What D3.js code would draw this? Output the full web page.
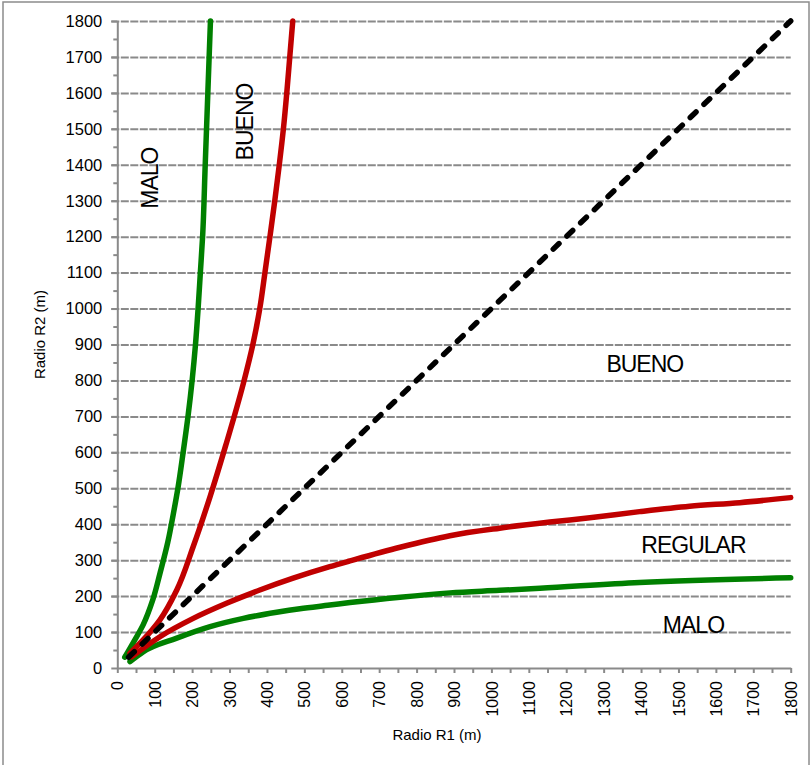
<!DOCTYPE html>
<html>
<head>
<meta charset="utf-8">
<script src="https://cdn.jsdelivr.net/npm/d3@7"></script>
<style>
  body { margin: 0; background: #fff; }
  text { font-family: "Liberation Sans", Arial, sans-serif; fill: #000; }
</style>
</head>
<body>
<div id="chart-area"></div>
<script>
// Valores de los ejes (ticks)
const ticksR1 = [0, 100, 200, 300, 400, 500, 600, 700, 800, 900, 1000, 1100, 1200, 1300, 1400, 1500, 1600, 1700, 1800];
const ticksR2 = [0, 100, 200, 300, 400, 500, 600, 700, 800, 900, 1000, 1100, 1200, 1300, 1400, 1500, 1600, 1700, 1800];
const ticksMenores = [50, 150, 250, 350, 450, 550, 650, 750, 850, 950, 1050, 1150, 1250, 1350, 1450, 1550, 1650, 1750];

// Curvas: [R1, R2]
const verdeSuperior = [[20, 30], [45, 75], [69, 120], [95, 190], [114, 263], [135, 350], [150, 430], [162, 500],
  [176, 600], [189, 700], [200, 800], [209, 900], [216, 1000], [222, 1100], [228, 1200], [235, 1400], [242, 1600], [249, 1800]];
const rojoSuperior = [[34, 41], [69, 78], [114, 134], [159, 217], [203, 338], [248, 477], [290, 620], [337, 792],
  [363, 903], [381, 1001], [395, 1103], [408, 1200], [421, 1300], [433, 1400], [444, 1500], [453, 1600], [461, 1700], [469, 1800]];
const rojoInferior = [[38, 31], [114, 87], [203, 138], [292, 180], [381, 217], [470, 250], [568, 282], [622, 298],
  [756, 336], [889, 368], [1022, 389], [1156, 406], [1263, 418], [1396, 435], [1530, 450], [1664, 460], [1800, 474]];
const verdeInferior = [[34, 18], [69, 45], [159, 83], [248, 115], [337, 138], [426, 155], [488, 165], [568, 175],
  [622, 182], [756, 197], [889, 209], [1022, 216], [1130, 222], [1396, 238], [1800, 251]];
const diagonal = [[30, 30], [1800, 1800]];

// Textos de las zonas
const zonas = [
  { texto: "MALO", r1: 109, r2: 1363, rot: true },
  { texto: "BUENO", r1: 363, r2: 1519, rot: true },
  { texto: "BUENO", r1: 1410, r2: 824, rot: false },
  { texto: "REGULAR", r1: 1540, r2: 320, rot: false },
  { texto: "MALO", r1: 1540, r2: 97, rot: false }
];

var margin = { top: 21, right: 20, bottom: 97, left: 117.3 },
    width = 811 - margin.left - margin.right - 0.3,
    height = 765 - margin.top - margin.bottom;

var svg0 = d3.select("#chart-area").append("svg")
    .attr("width", 811)
    .attr("height", 765);

// Borde exterior
svg0.append("rect")
    .attr("x", 3).attr("y", 2)
    .attr("width", 806).attr("height", 780)
    .attr("fill", "none")
    .attr("stroke", "#8c8c8c")
    .attr("stroke-width", 1.5);

var svg = svg0.append("g")
    .attr("transform", "translate(" + margin.left + "," + margin.top + ")");

var x = d3.scaleLinear().domain([0, 1800]).range([0, width]);
var y = d3.scaleLinear().domain([0, 1800]).range([height, 0]);
var formato = d3.format("d");

// Lineas de grilla horizontales
svg.append("g")
    .attr("class", "grid")
    .call(d3.axisLeft(y).tickValues(ticksR2.slice(1)).tickSize(-width - 6).tickFormat(""))
    .attr("transform", "translate(-6,0)")
    .call(g => g.select(".domain").remove())
    .selectAll("line")
    .attr("stroke", "#8a8a8a")
    .attr("stroke-width", 2)
    .attr("stroke-dasharray", "8,1.5");

// Eje y
svg.append("g")
    .call(d3.axisLeft(y).tickValues(ticksMenores).tickSize(4).tickFormat(""))
    .call(g => g.select(".domain").remove())
    .selectAll("line").attr("stroke", "#8a8a8a").attr("stroke-width", 2);

var yAxis = svg.append("g")
    .call(d3.axisLeft(y).tickValues(ticksR2).tickFormat(formato).tickSize(6).tickPadding(9).tickSizeOuter(0));
yAxis.select(".domain").attr("stroke", "#8a8a8a").attr("stroke-width", 2);
yAxis.selectAll("line").attr("stroke", "#8a8a8a").attr("stroke-width", 2);
yAxis.selectAll("text").style("font-size", "16.5px").style("font-family", "Liberation Sans, Arial, sans-serif");

// Eje x
svg.append("g")
    .attr("transform", "translate(0," + height + ")")
    .call(d3.axisBottom(x).tickValues(ticksMenores).tickSize(5).tickFormat(""))
    .call(g => g.select(".domain").remove())
    .selectAll("line").attr("stroke", "#8a8a8a").attr("stroke-width", 2);

var xAxis = svg.append("g")
    .attr("transform", "translate(0," + height + ")")
    .call(d3.axisBottom(x).tickValues(ticksR1).tickFormat(formato).tickSize(5).tickSizeOuter(0));
xAxis.select(".domain").attr("stroke", "#8a8a8a").attr("stroke-width", 2);
xAxis.selectAll("line").attr("stroke", "#8a8a8a").attr("stroke-width", 2);
xAxis.selectAll("text")
    .attr("transform", "rotate(-90)")
    .attr("x", -13)
    .attr("y", 0)
    .attr("dy", ".35em")
    .style("text-anchor", "end")
    .style("font-size", "16px")
    .style("font-family", "Liberation Sans, Arial, sans-serif");

// Titulos de ejes
svg.append("text")
    .attr("x", width / 2 - 17)
    .attr("y", height + 72)
    .style("text-anchor", "middle")
    .style("font-size", "15px")
    .text("Radio R1 (m)");

svg.append("text")
    .attr("transform", "rotate(-90)")
    .attr("x", -height / 2 + 10)
    .attr("y", -72)
    .style("text-anchor", "middle")
    .style("font-size", "15px")
    .text("Radio R2 (m)");

// Curvas: las superiores son monotonas en R2, las inferiores en R1
var lineaX = d3.line()
    .x(d => x(d[0]))
    .y(d => y(d[1]))
    .curve(d3.curveMonotoneX);
var lineaY = d3.line()
    .x(d => x(d[0]))
    .y(d => y(d[1]))
    .curve(d3.curveMonotoneY);

var curvas = [
  { datos: verdeSuperior, color: "#008000", gen: lineaY },
  { datos: rojoSuperior, color: "#C00000", gen: lineaY },
  { datos: verdeInferior, color: "#008000", gen: lineaX },
  { datos: rojoInferior, color: "#C00000", gen: lineaX }
];

svg.selectAll(".curva")
    .data(curvas)
    .enter().append("path")
    .attr("class", "curva")
    .attr("d", d => d.gen(d.datos))
    .attr("fill", "none")
    .attr("stroke", d => d.color)
    .attr("stroke-width", 5.5)
    .attr("stroke-linecap", "round")
    .attr("stroke-linejoin", "round");

svg.append("path")
    .attr("d", lineaX(diagonal))
    .attr("fill", "none")
    .attr("stroke", "#000")
    .attr("stroke-width", 5.5)
    .attr("stroke-dasharray", "8,11")
    .attr("stroke-linecap", "round");

// Etiquetas de zonas
svg.selectAll(".zona")
    .data(zonas)
    .enter().append("text")
    .attr("class", "zona")
    .attr("transform", d => "translate(" + x(d.r1) + "," + y(d.r2) + ")" + (d.rot ? " rotate(-90)" : ""))
    .style("text-anchor", "middle")
    .style("font-size", "23px")
    .style("letter-spacing", "-1px")
    .text(d => d.texto);
</script>
</body>
</html>
